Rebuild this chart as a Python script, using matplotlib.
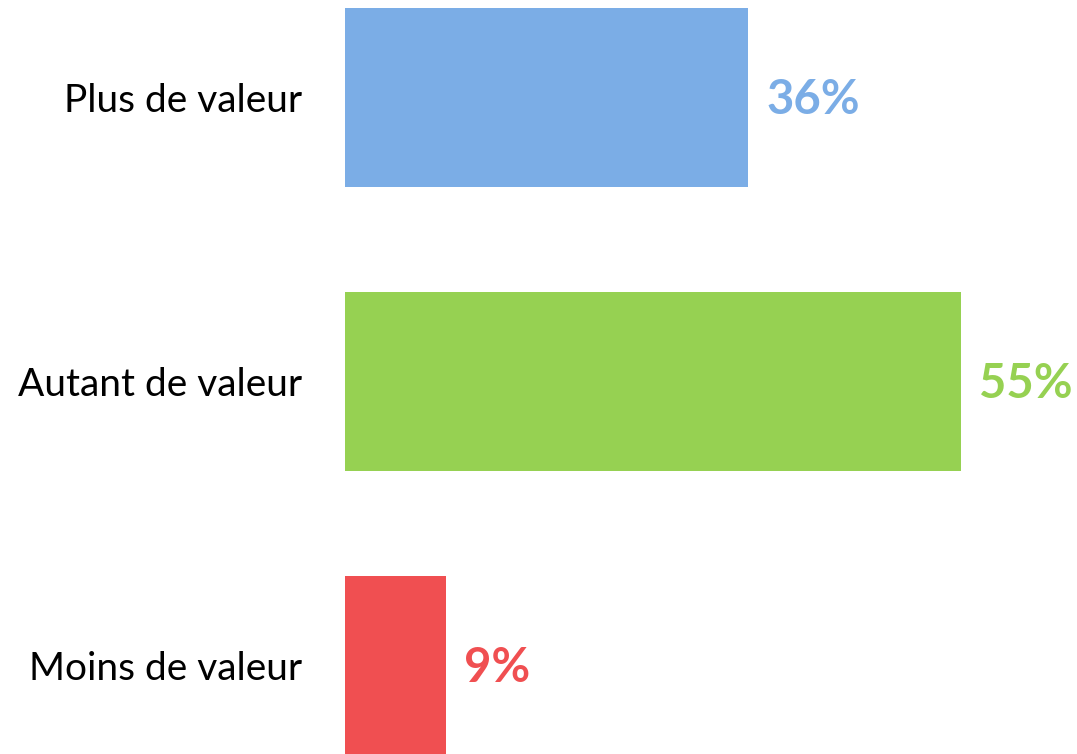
import matplotlib.pyplot as plt

categories = ['Plus de valeur', 'Autant de valeur', 'Moins de valeur']
values = [36, 55, 9]
colors = ['#7BADE6', '#96D152', '#F04F51']

fig = plt.figure(figsize=(10.77, 7.54), dpi=100)
ax = fig.add_axes([345 / 1077, 0, 732 / 1077, 1])

ypos = list(range(len(categories)))
ax.barh(ypos, values, height=0.63, color=colors)

for y, v, c in zip(ypos, values, colors):
    ax.text(v + 1.6, y + 0.01, f'{v}%', color=c, fontsize=34, fontweight='bold',
            family='Lato', va='center', ha='left')

ax.set_yticks(ypos)
ax.set_yticklabels(categories, fontsize=28, family='Lato')
ax.tick_params(axis='y', length=0, pad=31)
ax.set_xticks([])
ax.set_xlim(0, 732 / 11.2)
ax.set_ylim(2.312, -0.343)
for s in ax.spines.values():
    s.set_visible(False)

fig.savefig('out.png', dpi=100)
